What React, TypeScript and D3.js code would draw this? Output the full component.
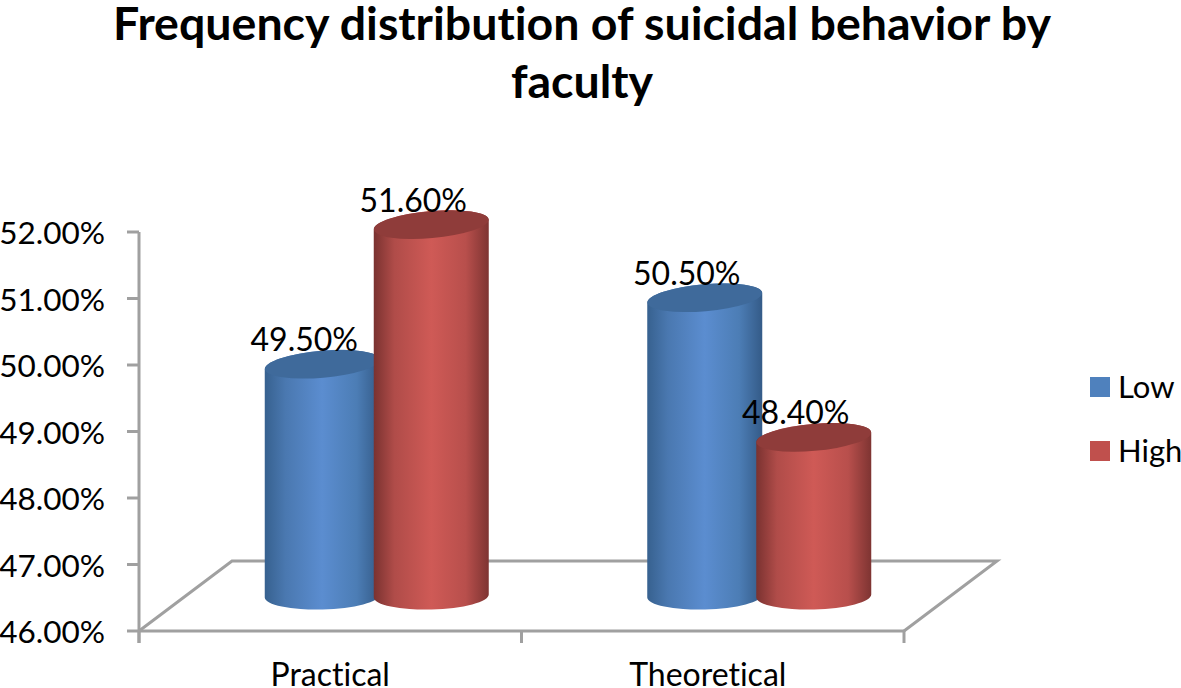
import React from 'react';
import * as d3 from 'd3';

const categories = ['Practical', 'Theoretical'];
const seriesNames = ['Low', 'High'];
const lowValues = [49.5, 50.5];
const highValues = [51.6, 48.4];
const yTicks = [46, 47, 48, 49, 50, 51, 52];
const titleLines = ['Frequency distribution of suicidal behavior by', 'faculty'];

const width = 1181;
const height = 688;
const font = 'Lato, "Open Sans", sans-serif';
const axisColor = '#a0a0a0';
const noLig = { fontVariantLigatures: 'none' } as React.CSSProperties;

const x0 = d3.scaleBand().domain(categories).range([139, 904]);
const x1 = d3.scaleBand().domain(seriesNames).range([0, 218]);
const y = d3.scaleLinear().domain([46, 52]).range([631, 232]);

// depth offset of the fake 3D floor
const depthX = 93;
const depthY = 70;
const barW = 115;
const rx = barW / 2;
const ry = 13.5;

const palette: Record<string, string[]> = {
  Low: ['#37618f', '#4a78b0', '#5b8dd0', '#4c7db5', '#345b88', '#3f6a9b'],
  High: ['#7a3230', '#b04c49', '#cf5a56', '#b84f4c', '#7e3432', '#8f3c3a'],
};

const cylinder = (cx: number, topY: number, baseY: number) => {
  const tilt = 5;
  const baseTilt = 1.5;
  return `M${cx - rx},${topY + tilt} A${rx},${ry} -5 0 1 ${cx + rx},${topY - tilt}` +
    ` L${cx + rx},${baseY - baseTilt} A${rx},${ry} -1.5 0 1 ${cx - rx},${baseY + baseTilt} Z`;
};

const Bar = ({ name, cat, value, label }: { name: string; cat: string; value: number; label: string }) => {
  const cx = (x0(cat) as number) + x0.bandwidth() / 2 + depthX / 2 - 109 + (x1(name) as number) + x1.bandwidth() / 2;
  const topY = y(value) - depthY / 2 + 1;
  const baseY = y(46) - depthY / 2;
  return (
    <g>
      <path d={cylinder(cx, topY, baseY)} fill={`url(#grad-${name})`} />
      <ellipse cx={cx} cy={topY} rx={rx} ry={ry} transform={`rotate(-5 ${cx} ${topY})`} fill={palette[name][5]} />
      <text x={cx - 18} y={topY - 13} textAnchor="middle" fontSize={32} fontFamily={font} fill="#000" style={noLig}>{label}</text>
    </g>
  );
};

export default function App() {
  const floor = d3.line()([
    [x0.range()[0], y(46)],
    [x0.range()[0] + depthX, y(46) - depthY],
    [x0.range()[1] + depthX, y(46) - depthY],
    [x0.range()[1], y(46)],
  ] as [number, number][]) as string;

  return (
    <svg width={width} height={height} style={{ position: 'absolute', left: 0, top: 0, background: '#fff' }}>
      <defs>
        {seriesNames.map(n => (
          <linearGradient key={n} id={`grad-${n}`} x1="0" x2="1" y1="0" y2="0">
            {palette[n].slice(0, 5).map((c, i) => (
              <stop key={i} offset={[0, 0.18, 0.5, 0.8, 1][i]} stopColor={c} />
            ))}
          </linearGradient>
        ))}
      </defs>

      {titleLines.map((t, i) => (
        <text key={t} x={582} y={40 + i * 58} textAnchor="middle" fontSize={46.5} fontWeight="bold" fontFamily={font} fill="#000" style={noLig}>{t}</text>
      ))}

      <path d={floor} fill="none" stroke={axisColor} strokeWidth={3} />
      <line x1={139} x2={139} y1={y(52)} y2={y(46) + 12} stroke={axisColor} strokeWidth={3} />
      <line x1={139} x2={904} y1={y(46)} y2={y(46)} stroke={axisColor} strokeWidth={3} />
      {yTicks.map(t => (
        <g key={t}>
          <line x1={127} x2={139} y1={y(t)} y2={y(t)} stroke={axisColor} strokeWidth={3} />
          <text x={105} y={y(t) + 12} textAnchor="end" fontSize={31.5} fontFamily={font} fill="#000">{`${t.toFixed(2)}%`}</text>
        </g>
      ))}
      {[...categories.map(c => x0(c) as number), 904].map(v => (
        <line key={v} x1={v} x2={v} y1={y(46)} y2={y(46) + 12} stroke={axisColor} strokeWidth={3} />
      ))}
      {categories.map((c, i) => (
        <text key={c} x={(x0(c) as number) + x0.bandwidth() / 2 - i * 5} y={686} textAnchor="middle" fontSize={32} fontFamily={font} fill="#000" style={noLig}>{c}</text>
      ))}

      {categories.map((c, i) => (
        <g key={c}>
          <Bar name="Low" cat={c} value={lowValues[i]} label={`${lowValues[i].toFixed(2)}%`} />
          <Bar name="High" cat={c} value={highValues[i]} label={`${highValues[i].toFixed(2)}%`} />
        </g>
      ))}

      {seriesNames.map((n, i) => (
        <g key={n}>
          <rect x={1090} y={377 + i * 64} width={20} height={20} fill={n === 'Low' ? '#4f81bd' : '#c0504d'} />
          <text x={1118} y={398 + i * 64} fontSize={31} fontFamily={font} fill="#000">{n}</text>
        </g>
      ))}
    </svg>
  );
}
